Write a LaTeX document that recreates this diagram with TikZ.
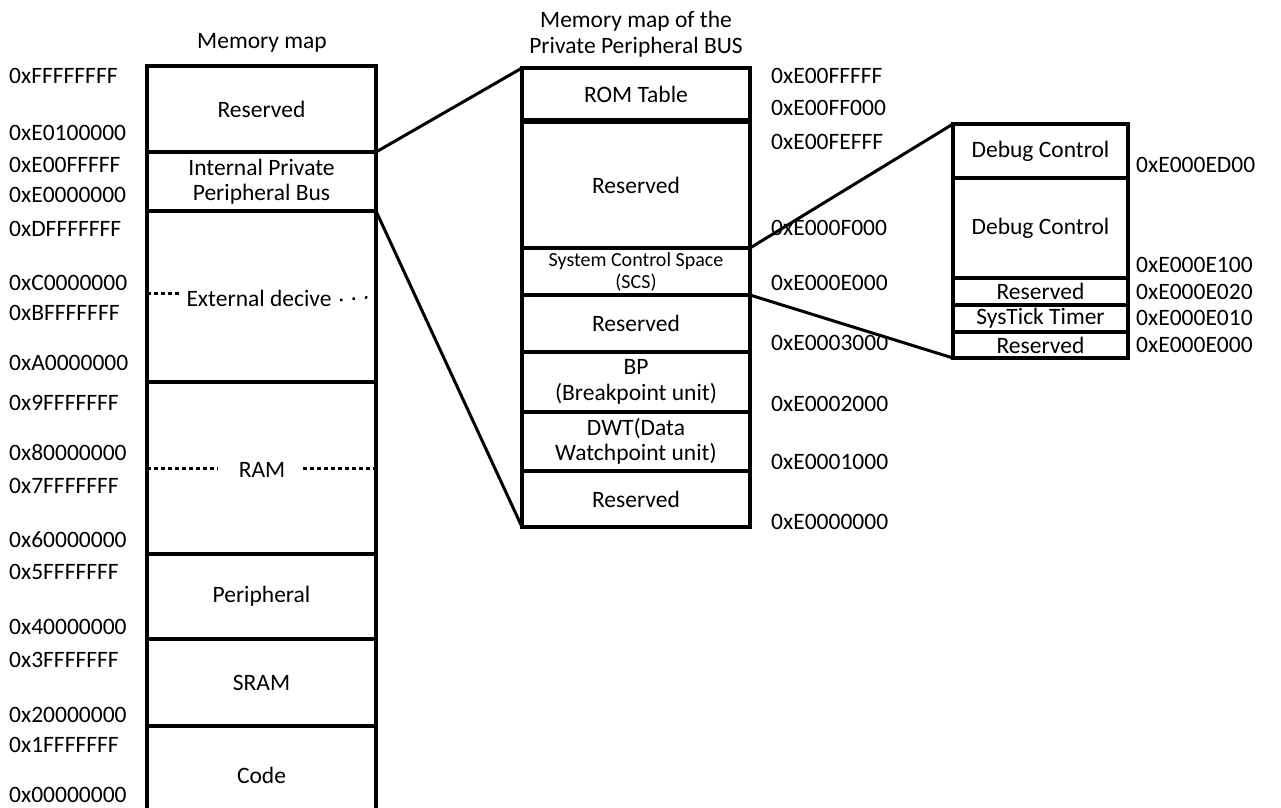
\documentclass[tikz,border=0pt]{standalone}
\usepackage{fontspec}
\setmainfont{Carlito}
\newcommand\fsmain{\fontsize{23.5}{25.5}\selectfont}
\newcommand\fsscs{\fontsize{20}{22}\selectfont}
\tikzset{
  region/.style={draw, line width=4pt, inner sep=0pt, outer sep=0pt,
                 align=center, font=\fsmain},
  txt/.style={inner sep=0pt, outer sep=0pt, align=center, font=\fsmain},
  addr/.style={anchor=west, inner sep=0pt, font=\fsmain},
  conn/.style={line width=3pt},
  densedots/.style={line width=3pt, dash pattern=on 3.5pt off 3.5pt},
  sparsedots/.style={line width=2.5pt, dash pattern=on 2.5pt off 10pt},
}
\begin{document}
\begin{tikzpicture}[x=1pt, y=-1pt]
\clip (0,0) rectangle (1281,807);
\fill[white] (0,0) rectangle (1281,807);

% ---------- full memory map ----------
\node[txt] (ttl1) at (262,43) {Memory map};
\node[region, minimum width=229pt, minimum height=86pt]  (lres)  at (261.5,109)   {Reserved};
\node[region, minimum width=229pt, minimum height=59pt]  (ippb)  at (261.5,181.5) {Internal Private\\Peripheral Bus};
\node[region, minimum width=229pt, minimum height=171pt] (ext)   at (261.5,296.5) {};
\node[region, minimum width=229pt, minimum height=172pt] (ram)   at (261.5,468)   {};
\node[region, minimum width=229pt, minimum height=85pt]  (peri)  at (261.5,596.5) {Peripheral};
\node[region, minimum width=229pt, minimum height=87pt]  (sram)  at (261.5,682.5) {SRAM};
\node[region, minimum width=229pt, minimum height=98pt]  (code)  at (261.5,775)   {Code};

\node[txt] (extlbl) at (259,298) {External decive};
\node[txt] (ramlbl) at (262,470) {RAM};
\draw[densedots] ([yshift=3.5pt]ext.west) -- ++(35,0);
\draw[sparsedots] ([xshift=-36pt,yshift=-3.5pt]ext.east) -- (ext.east);
\draw[densedots] (ram.west) -- ++(71,0);
\draw[densedots] ([xshift=-73pt]ram.east) -- (ram.east);

\foreach \a/\y in {0xFFFFFFFF/76, 0xE0100000/133, 0xE00FFFFF/165, 0xE0000000/195,
                   0xDFFFFFFF/229, 0xC0000000/283, 0xBFFFFFFF/313, 0xA0000000/363,
                   0x9FFFFFFF/403, 0x80000000/453, 0x7FFFFFFF/486, 0x60000000/540,
                   0x5FFFFFFF/572, 0x40000000/627, 0x3FFFFFFF/660, 0x20000000/715,
                   0x1FFFFFFF/745, 0x00000000/795}
  \node[addr] at (9,\y) {\a};

% ---------- private peripheral bus ----------
\node[txt] (ttl2) at (636,34) {Memory map of the\\Private Peripheral BUS};
\node[region, minimum width=228pt, minimum height=52pt]  (rom)  at (636,94)    {ROM Table};
\node[region, minimum width=228pt, minimum height=126pt] (pres) at (636,185)   {Reserved};
\node[region, minimum width=228pt, minimum height=47pt, font=\fsscs] (scs) at (636,271.5) {System Control Space\\(SCS)};
\node[region, minimum width=228pt, minimum height=57pt]  (pres2) at (636,323.5) {Reserved};
\node[region, minimum width=228pt, minimum height=60pt]  (bp)   at (636,382)   {BP\\(Breakpoint unit)};
\node[region, minimum width=228pt, minimum height=59pt]  (dwt)  at (636,441.5) {DWT(Data\\Watchpoint unit)};
\node[region, minimum width=228pt, minimum height=56pt]  (pres3) at (636,499)   {Reserved};

\foreach \a/\y in {0xE00FFFFF/76, 0xE00FF000/108, 0xE00FEFFF/142, 0xE000F000/228,
                   0xE000E000/283, 0xE0003000/343, 0xE0002000/404, 0xE0001000/462,
                   0xE0000000/522}
  \node[addr] at (771,\y) {\a};

% ---------- system control space ----------
\node[region, minimum width=175pt, minimum height=54pt]  (dbg1) at (1040.5,151)   {Debug Control};
\node[region, minimum width=175pt, minimum height=100pt] (dbg2) at (1040.5,228)   {Debug Control};
\node[region, minimum width=175pt, minimum height=27pt]  (sres1) at (1040.5,291.5) {Reserved};
\node[region, minimum width=175pt, minimum height=27pt]  (tick) at (1040.5,318.5) {SysTick Timer};
\node[region, minimum width=175pt, minimum height=26pt]  (sres2) at (1040.5,345)   {Reserved};

\foreach \a/\y in {0xE000ED00/165, 0xE000E100/265, 0xE000E020/292, 0xE000E010/318,
                   0xE000E000/345}
  \node[addr] at (1136,\y) {\a};

% ---------- zoom connectors ----------
\draw[conn] (ippb.north east) -- (rom.north west);
\draw[conn] (ippb.south east) -- (pres3.south west);
\draw[conn] (scs.north east) -- (dbg1.north west);
\draw[conn] (scs.south east) -- (sres2.south west);
\end{tikzpicture}
\end{document}
